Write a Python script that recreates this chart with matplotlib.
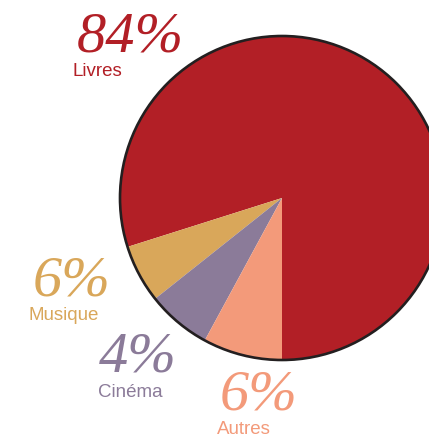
import matplotlib
matplotlib.use("Agg")
import matplotlib.pyplot as plt
from matplotlib.patches import Circle

# Data
categories = ["Livres", "Musique", "Cinéma", "Autres"]
pct_labels = ["84%", "6%", "4%", "6%"]
slice_sizes = [79.8, 5.8, 6.4, 7.9]   # slice sizes as drawn in the picture
colors = ["#b21f26", "#d9a75a", "#8b7b99", "#f39a7a"]

W, H = 429, 437
fig = plt.figure(figsize=(W / 100, H / 100), dpi=100)
ax = fig.add_axes([0, 0, 1, 1])

cx, cy, r = 282, H - 198, 162
ax.pie(slice_sizes, colors=colors, startangle=270, counterclock=True,
       center=(cx, cy), radius=r, wedgeprops=dict(linewidth=0),
       frame=True)
ax.set_xlim(0, W)
ax.set_ylim(0, H)
ax.set_aspect("equal")
ax.axis("off")
ax.add_patch(Circle((cx, cy), r, fill=False, edgecolor="#231f20", lw=1.9, zorder=5))

# label positions (pixel coords: left x, baseline y of pct, baseline y of name, left x of name)
label_pos = [(77, 51, 76, 73), (33, 295, 320, 29), (99, 371, 397, 98), (220, 410, 434, 217)]
for cat, pct, col, (px, py, ny, nx) in zip(categories, pct_labels, colors, label_pos):
    ax.text(px, H - py, pct, color=col, fontsize=42, family="Liberation Serif",
            style="italic", ha="left", va="baseline")
    ax.text(nx, H - ny, cat, color=col, fontsize=13.5, family="Liberation Sans",
            ha="left", va="baseline")

fig.savefig("out.png", dpi=100)
